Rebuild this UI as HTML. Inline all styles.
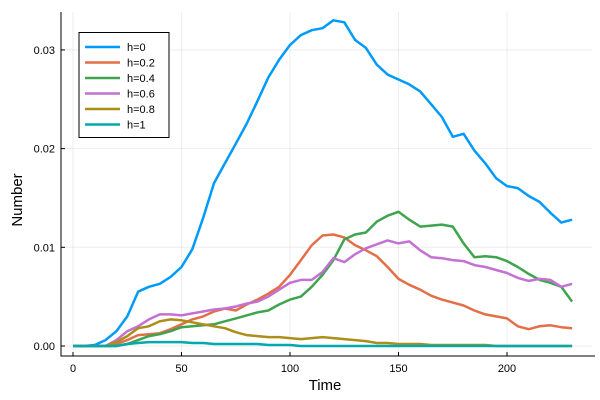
<!DOCTYPE html>
<html><head><meta charset="utf-8"><style>
body{margin:0;background:#fff}
svg{display:block;font-family:"Liberation Sans",sans-serif}
</style></head><body>
<svg id="chart" width="600" height="400">
<g id="grid"></g>
<g id="axes"></g>
<g id="lines"></g>
<text x="325" y="390" font-size="15" text-anchor="middle">Time</text>
<text x="0" y="0" font-size="15" text-anchor="middle" transform="translate(22,200) rotate(-90)">Number</text>
<g id="legend"></g>
</svg>
<script>
const times = [0,5,10,15,20,25,30,35,40,45,50,55,60,65,70,75,80,85,90,95,100,105,110,115,120,125,130,135,140,145,150,155,160,165,170,175,180,185,190,195,200,205,210,215,220,225,230];
const seriesNames = ["h=0","h=0.2","h=0.4","h=0.6","h=0.8","h=1"];
const h0 = [0,0,0.0001,0.0006,0.0015,0.003,0.0055,0.006,0.0063,0.007,0.008,0.0098,0.013,0.0165,0.0185,0.0205,0.0225,0.0248,0.0272,0.029,0.0305,0.0315,0.032,0.0322,0.033,0.0328,0.031,0.0302,0.0285,0.0275,0.027,0.0265,0.0258,0.0245,0.0232,0.0212,0.0215,0.0198,0.0185,0.017,0.0162,0.016,0.0152,0.0146,0.0135,0.0125,0.0128];
const h02 = [0,0,0,0,0.0002,0.0006,0.0011,0.0012,0.0013,0.0017,0.0022,0.0027,0.003,0.0035,0.0038,0.0036,0.0042,0.0047,0.0053,0.006,0.0072,0.0087,0.0102,0.0112,0.0113,0.011,0.0102,0.0097,0.0091,0.008,0.0068,0.0062,0.0057,0.0051,0.0047,0.0044,0.0041,0.0036,0.0032,0.003,0.0028,0.002,0.0017,0.002,0.0021,0.0019,0.0018];
const h04 = [0,0,0,0,0,0.0002,0.0006,0.001,0.0012,0.0015,0.0019,0.002,0.0021,0.0022,0.0025,0.0028,0.0031,0.0034,0.0036,0.0042,0.0047,0.005,0.006,0.0072,0.0087,0.0108,0.0113,0.0115,0.0126,0.0132,0.0136,0.0128,0.0121,0.0122,0.0123,0.0121,0.0104,0.009,0.0091,0.009,0.0086,0.008,0.0073,0.0067,0.0064,0.006,0.0045];
const h06 = [0,0,0,0,0.0006,0.0015,0.002,0.0027,0.0032,0.0032,0.0031,0.0033,0.0035,0.0037,0.0038,0.004,0.0043,0.0045,0.005,0.0057,0.0064,0.0067,0.0067,0.0075,0.0089,0.0085,0.0093,0.0099,0.0103,0.0107,0.0104,0.0106,0.0097,0.009,0.0089,0.0087,0.0086,0.0082,0.008,0.0077,0.0074,0.0069,0.0066,0.0068,0.0067,0.006,0.0063];
const h08 = [0,0,0,0,0.0004,0.001,0.0018,0.002,0.0025,0.0027,0.0026,0.0024,0.0022,0.002,0.0018,0.0014,0.0011,0.001,0.0009,0.0009,0.0008,0.0007,0.0008,0.0009,0.0008,0.0007,0.0006,0.0005,0.0003,0.0003,0.0002,0.0002,0.0002,0.0001,0.0001,0.0001,0.0001,0.0001,0.0001,0,0,0,0,0,0,0,0];
const h1 = [0,0,0,0,0,0.0002,0.0003,0.0004,0.0004,0.0004,0.0004,0.0003,0.0003,0.0002,0.0002,0.0002,0.0002,0.0002,0.0001,0.0001,0.0001,0,0,0,0,0,0,0,0,0,0,0,0,0,0,0,0,0,0,0,0,0,0,0,0,0,0];
const xTicks = [0,50,100,150,200];
const yTicks = [0,0.01,0.02,0.03];
const yTickLabels = ["0.00","0.01","0.02","0.03"];

const NS="http://www.w3.org/2000/svg";
const colors=["#009AFA","#E36F47","#3EA44E","#C371D2","#AC8E18","#00A9AD"];
const allSeries=[h0,h02,h04,h06,h08,h1];
const X0=73, XS=2.17, Y0=346, YS=9870;
const L=61,R=592,T=12,B=356;
function sx(t){return X0+t*XS;}
function sy(v){return Y0-v*YS;}
function mk(tag,attrs,parent){const e=document.createElementNS(NS,tag);for(const k in attrs)e.setAttribute(k,attrs[k]);parent.appendChild(e);return e;}
const grid=document.getElementById('grid'),axes=document.getElementById('axes'),lines=document.getElementById('lines'),legend=document.getElementById('legend');
xTicks.forEach(t=>{
  const g=mk('line',{x1:sx(t),x2:sx(t),y1:T,y2:B,stroke:'#000','stroke-opacity':0.07,'stroke-width':1},grid);
  
  
  const tk=mk('line',{x1:sx(t),x2:sx(t),y1:B,y2:B-4,stroke:'#000','stroke-width':1},axes);
  
  
  const tx=mk('text',{x:sx(t),y:B+16,'font-size':11,'text-anchor':'middle'},axes);
  tx.textContent=t;
  
  
});
yTicks.forEach((v,i)=>{
  const g=mk('line',{x1:L,x2:R,y1:sy(v),y2:sy(v),stroke:'#000','stroke-opacity':0.07,'stroke-width':1},grid);
  
  
  const tk=mk('line',{x1:L,x2:L+4,y1:sy(v),y2:sy(v),stroke:'#000','stroke-width':1},axes);
  
  
  const tx=mk('text',{x:L-6,y:sy(v)+4,'font-size':11,'text-anchor':'end'},axes);
  tx.textContent=yTickLabels[i];
  
  
});
const ax=mk('path',{d:`M${L},${T} L${L},${B} L${R+3},${B}`,fill:'none',stroke:'#000','stroke-width':1},axes);


allSeries.forEach((s,i)=>{
  const d=s.map((v,j)=>(j?'L':'M')+sx(times[j]).toFixed(1)+','+sy(v).toFixed(1)).join(' ');
  const p=mk('path',{d:d,fill:'none',stroke:colors[i],'stroke-width':2.5,'stroke-linejoin':'round'},lines);
  
  
});
const box=mk('rect',{x:79,y:32.5,width:90,height:105,fill:'#fff',stroke:'#000','stroke-width':1},legend);


seriesNames.forEach((n,i)=>{
  const y=47+i*15.5;
  const ln=mk('line',{x1:85,x2:120,y1:y,y2:y,stroke:colors[i],'stroke-width':2.5},legend);
  
  
  const tx=mk('text',{x:127,y:y+4,'font-size':11},legend);
  tx.textContent=n;
  
  
});
</script>
</body></html>
